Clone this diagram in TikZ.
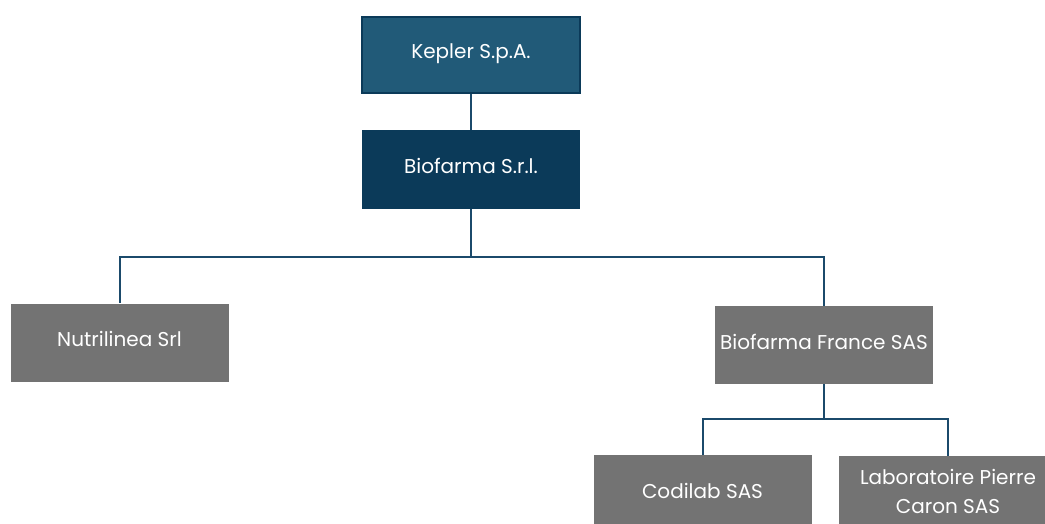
\documentclass[tikz,border=0pt]{standalone}
\usepackage{fontspec}
\setmainfont{Poppins}
\usepackage{tikz}
\usetikzlibrary{positioning}
\definecolor{keplerblue}{HTML}{215A78}
\definecolor{biofarmablue}{HTML}{0B3A59}
\definecolor{linkblue}{HTML}{1B4A6B}
\definecolor{subgray}{HTML}{737373}
\tikzset{co/.style={minimum width=218pt,inner sep=0pt,align=center,text=white,font=\fontsize{20}{29}\selectfont,text height=16pt,text depth=8pt}}
\tikzset{hold/.style={co,fill=keplerblue,draw=biofarmablue,line width=2pt,minimum height=76pt}}
\tikzset{mid/.style={co,fill=biofarmablue,minimum height=79pt}}
\tikzset{sub/.style={co,fill=subgray,minimum height=78pt}}
\tikzset{link/.style={draw=linkblue,line width=2pt}}

\begin{document}
\begin{tikzpicture}[x=1pt,y=-1pt]
  \useasboundingbox (0,0) rectangle (1045,524);
  \node[hold] (kepler) at (471,55) {Kepler S.p.A.};
  \node[mid] (bio) at (471,169.5) {Biofarma S.r.l.};
  \node[sub] (nutri) at (119.5,342.5) {Nutrilinea Srl};
  \node[sub] (bfr) at (824,345) {Biofarma France SAS};
  \node[sub] (codi) at (702.5,494) {Codilab SAS};
  \node[sub,text height=,text depth=7pt] (lab) at (948,495) {Laboratoire Pierre\\Caron SAS};
  % bus lines
  \coordinate (busA) at (471,257);
  \coordinate (busB) at (824,419);
  \draw[link] (kepler) -- (bio);
  \draw[link] (bio.south) -- (busA) -| (nutri.north);
  \draw[link] (busA) -| (bfr.north);
  \draw[link] (bfr.south) -- (busB) -| (codi.north);
  \draw[link] (busB) -| (lab.north);
\end{tikzpicture}
\end{document}
